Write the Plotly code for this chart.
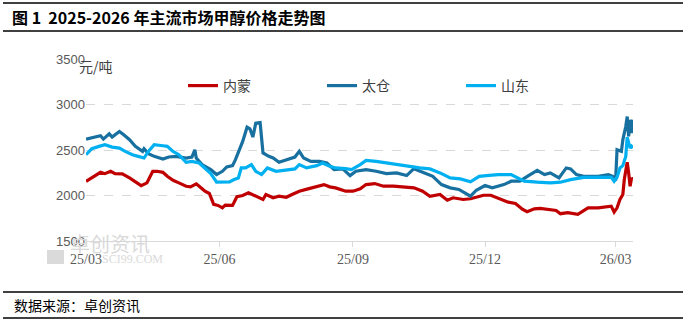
import plotly.graph_objects as go

# 内蒙 (Inner Mongolia) methanol prices, yuan/ton
nm_dates = ["2025-03-01", "2025-03-07", "2025-03-11", "2025-03-14", "2025-03-18", "2025-03-21",
            "2025-03-26", "2025-03-31", "2025-04-04", "2025-04-08", "2025-04-12", "2025-04-16",
            "2025-04-19", "2025-04-23", "2025-04-26", "2025-04-30", "2025-05-04", "2025-05-09",
            "2025-05-12", "2025-05-16", "2025-05-18", "2025-05-22", "2025-05-25", "2025-05-28",
            "2025-05-31", "2025-06-03", "2025-06-05", "2025-06-10", "2025-06-13", "2025-06-17",
            "2025-06-21", "2025-06-26", "2025-07-01", "2025-07-03", "2025-07-08", "2025-07-12",
            "2025-07-17", "2025-07-21", "2025-07-26", "2025-08-01", "2025-08-07", "2025-08-12",
            "2025-08-16", "2025-08-20", "2025-08-27", "2025-09-01", "2025-09-06", "2025-09-10",
            "2025-09-16", "2025-09-22", "2025-09-29", "2025-10-06", "2025-10-13", "2025-10-19",
            "2025-10-24", "2025-10-31", "2025-11-05", "2025-11-09", "2025-11-16", "2025-11-21",
            "2025-11-30", "2025-12-05", "2025-12-12", "2025-12-17", "2025-12-22", "2025-12-27",
            "2025-12-30", "2026-01-04", "2026-01-08", "2026-01-14", "2026-01-19", "2026-01-22",
            "2026-01-27", "2026-02-03", "2026-02-07", "2026-02-10", "2026-02-17", "2026-02-24",
            "2026-02-26", "2026-02-28", "2026-03-02", "2026-03-04", "2026-03-06", "2026-03-07",
            "2026-03-09", "2026-03-10", "2026-03-11", "2026-03-12", "2026-03-13"]
nm_values = [2156, 2211, 2255, 2240, 2266, 2240,
             2237, 2193, 2150, 2109, 2139, 2266,
             2266, 2255, 2211, 2167, 2139, 2102,
             2095, 2128, 2102, 2047, 2022, 1902,
             1891, 1865, 1894, 1891, 1986, 2000,
             2030, 1992, 1956, 2011, 1975, 1992,
             1981, 2011, 2047, 2073, 2102, 2120,
             2095, 2084, 2047, 2047, 2073, 2120,
             2131, 2102, 2102, 2095, 2084, 2047,
             1992, 2011, 1949, 1975, 1956, 1964,
             2003, 2003, 1964, 1927, 1913, 1847,
             1822, 1854, 1858, 1847, 1836, 1800,
             1811, 1792, 1829, 1865, 1865, 1876,
             1883, 1818, 1865, 1956, 2011, 2175,
             2365, 2248, 2102, 2193, 2175]

# 太仓 (Taicang) methanol prices, yuan/ton
tc_dates = ["2025-03-01", "2025-03-05", "2025-03-11", "2025-03-13", "2025-03-17", "2025-03-19",
            "2025-03-24", "2025-03-27", "2025-03-31", "2025-04-04", "2025-04-09", "2025-04-10",
            "2025-04-13", "2025-04-17", "2025-04-23", "2025-04-27", "2025-05-02", "2025-05-09",
            "2025-05-13", "2025-05-15", "2025-05-16", "2025-05-20", "2025-05-26", "2025-05-30",
            "2025-06-03", "2025-06-06", "2025-06-10", "2025-06-12", "2025-06-15", "2025-06-17",
            "2025-06-20", "2025-06-22", "2025-06-24", "2025-06-26", "2025-06-29", "2025-07-01",
            "2025-07-05", "2025-07-08", "2025-07-12", "2025-07-17", "2025-07-23", "2025-07-26",
            "2025-07-29", "2025-08-03", "2025-08-09", "2025-08-14", "2025-08-19", "2025-08-25",
            "2025-08-30", "2025-09-03", "2025-09-10", "2025-09-17", "2025-09-24", "2025-10-01",
            "2025-10-08", "2025-10-13", "2025-10-19", "2025-10-26", "2025-11-01", "2025-11-07",
            "2025-11-13", "2025-11-21", "2025-11-25", "2025-12-01", "2025-12-06", "2025-12-10",
            "2025-12-14", "2025-12-19", "2025-12-25", "2025-12-31", "2026-01-06", "2026-01-11",
            "2026-01-15", "2026-01-21", "2026-01-26", "2026-01-29", "2026-02-02", "2026-02-07",
            "2026-02-17", "2026-02-24", "2026-02-27", "2026-03-01", "2026-03-02", "2026-03-05",
            "2026-03-06", "2026-03-08", "2026-03-09", "2026-03-10", "2026-03-11", "2026-03-12",
            "2026-03-13"]
tc_values = [2620, 2631, 2656, 2620, 2678, 2642,
             2704, 2667, 2613, 2540, 2485, 2514,
             2460, 2430, 2401, 2423, 2430, 2412,
             2423, 2503, 2412, 2339, 2284, 2230,
             2266, 2314, 2328, 2394, 2503, 2594,
             2751, 2733, 2642, 2795, 2802, 2467,
             2430, 2412, 2365, 2394, 2423, 2485,
             2412, 2375, 2375, 2357, 2284, 2292,
             2219, 2266, 2284, 2266, 2240, 2248,
             2219, 2295, 2255, 2211, 2120, 2084,
             2066, 1992, 2058, 2109, 2084, 2102,
             2120, 2157, 2157, 2219, 2277, 2230,
             2248, 2193, 2303, 2292, 2230, 2211,
             2211, 2230, 2211, 2164, 2503, 2485,
             2613, 2758, 2868, 2650, 2832, 2686,
             2832]

# 山东 (Shandong) methanol prices, yuan/ton
sd_dates = ["2025-03-01", "2025-03-05", "2025-03-10", "2025-03-14", "2025-03-19", "2025-03-24",
            "2025-03-28", "2025-04-02", "2025-04-06", "2025-04-10", "2025-04-13", "2025-04-17",
            "2025-04-23", "2025-04-26", "2025-04-30", "2025-05-04", "2025-05-09", "2025-05-13",
            "2025-05-18", "2025-05-22", "2025-05-26", "2025-05-30", "2025-06-03", "2025-06-08",
            "2025-06-11", "2025-06-14", "2025-06-16", "2025-06-19", "2025-06-23", "2025-06-26",
            "2025-06-30", "2025-07-04", "2025-07-10", "2025-07-17", "2025-07-23", "2025-07-26",
            "2025-07-31", "2025-08-07", "2025-08-11", "2025-08-16", "2025-08-20", "2025-08-27",
            "2025-08-31", "2025-09-06", "2025-09-10", "2025-09-17", "2025-09-24", "2025-10-03",
            "2025-10-10", "2025-10-17", "2025-10-24", "2025-10-31", "2025-11-07", "2025-11-14",
            "2025-11-21", "2025-11-27", "2025-12-02", "2025-12-10", "2025-12-19", "2025-12-24",
            "2025-12-28", "2026-01-06", "2026-01-15", "2026-01-22", "2026-01-29", "2026-02-07",
            "2026-02-17", "2026-02-26", "2026-02-28", "2026-03-02", "2026-03-04", "2026-03-06",
            "2026-03-08", "2026-03-09", "2026-03-11", "2026-03-12", "2026-03-13"]
sd_values = [2448, 2514, 2540, 2558, 2532, 2521,
             2485, 2448, 2430, 2412, 2485, 2558,
             2547, 2540, 2485, 2448, 2365, 2375,
             2357, 2303, 2240, 2146, 2146, 2150,
             2175, 2193, 2303, 2303, 2339, 2266,
             2230, 2303, 2266, 2277, 2292, 2339,
             2303, 2328, 2357, 2321, 2303, 2295,
             2284, 2339, 2386, 2375, 2357, 2339,
             2321, 2303, 2292, 2248, 2193, 2182,
             2150, 2211, 2219, 2230, 2230, 2193,
             2157, 2146, 2139, 2146, 2175, 2200,
             2200, 2200, 2157, 2200, 2303, 2328,
             2430, 2642, 2521, 2540, 2521]

tick_dates = ["2025-03-01", "2025-06-01", "2025-09-01", "2025-12-01", "2026-03-01"]
tick_labels = ["25/03", "25/06", "25/09", "25/12", "26/03"]
y_ticks = [1500, 2000, 2500, 3000, 3500]

series = [
    ("内蒙", nm_dates, nm_values, "#C00000"),
    ("太仓", tc_dates, tc_values, "#17709F"),
    ("山东", sd_dates, sd_values, "#00B0F0"),
]

fig = go.Figure()
for name, xs, ys, color in series:
    fig.add_trace(go.Scatter(
        x=xs, y=ys, name=name, mode="lines",
        line=dict(color=color, width=3.2),
    ))

# plot area spans x 86..633 and y 59..241 in page pixels
L, T, W, H = 86, 59, 547, 182


def px(x):
    return (x - L) / W


def py(y):
    return 1 + (T - y) / H


fig.update_layout(
    width=687, height=323,
    margin=dict(l=L, r=687 - L - W, t=T, b=323 - T - H),
    paper_bgcolor="white", plot_bgcolor="white",
    font=dict(family="Noto Sans CJK SC, sans-serif", color="#595959"),
    legend=dict(
        orientation="h", x=px(183), xanchor="left", y=py(86), yanchor="middle",
        entrywidth=94, entrywidthmode="pixels",
        font=dict(size=14, color="#404040", family="Noto Sans CJK SC"),
        bgcolor="rgba(0,0,0,0)",
    ),
    showlegend=True,
)

fig.update_xaxes(
    type="date", range=["2025-03-01", "2026-03-13"],
    tickvals=tick_dates, ticktext=tick_labels,
    showgrid=False, showline=True, linecolor="#d9d9d9", linewidth=1,
    ticks="outside", ticklen=5, tickcolor="#d9d9d9",
    tickfont=dict(family="Liberation Serif", size=14, color="#595959"),
    zeroline=False,
)
fig.update_yaxes(
    range=[1500, 3500], tickvals=y_ticks,
    showgrid=True, gridcolor="#d9d9d9", griddash="dash", gridwidth=1,
    showline=False, zeroline=False, ticks="",
    tickfont=dict(family="Liberation Sans", size=13, color="#595959"),
)

# header and footer rules
for yy in [3, 31, 292, 318]:
    fig.add_shape(type="line", xref="paper", yref="paper",
                  x0=px(3), x1=px(683), y0=py(yy), y1=py(yy),
                  line=dict(color="#000000", width=1.5))

fig.add_annotation(
    text="<b>图 1  2025-2026 年主流市场甲醇价格走势图</b>",
    xref="paper", yref="paper", x=px(10), y=py(17), xanchor="left", yanchor="middle",
    showarrow=False, font=dict(size=16, color="#000000", family="Noto Sans CJK SC"),
)
fig.add_annotation(
    text="数据来源：卓创资讯",
    xref="paper", yref="paper", x=px(12), y=py(305), xanchor="left", yanchor="middle",
    showarrow=False, font=dict(size=14, color="#000000", family="Noto Sans CJK SC"),
)
fig.add_annotation(
    text="元/吨",
    xref="paper", yref="paper", x=px(77), y=py(66), xanchor="left", yanchor="middle",
    showarrow=False, font=dict(size=14, color="#404040", family="Noto Sans CJK SC"),
)

# faint publisher watermark in the lower-left corner
fig.add_shape(type="rect", xref="paper", yref="paper",
              x0=px(47), x1=px(64), y0=py(264), y1=py(250),
              fillcolor="#dadada", line=dict(width=0), layer="below")
fig.add_annotation(
    text="卓创资讯", xref="paper", yref="paper", x=px(68), y=py(243),
    xanchor="left", yanchor="middle", showarrow=False,
    font=dict(size=20, color="#dadada", family="Noto Sans CJK SC"),
)
fig.add_annotation(
    text="SCI99.COM", xref="paper", yref="paper", x=px(100), y=py(259),
    xanchor="left", yanchor="middle", showarrow=False,
    font=dict(size=12, color="#dadada", family="Liberation Serif"),
)

fig.write_html("out.html")
